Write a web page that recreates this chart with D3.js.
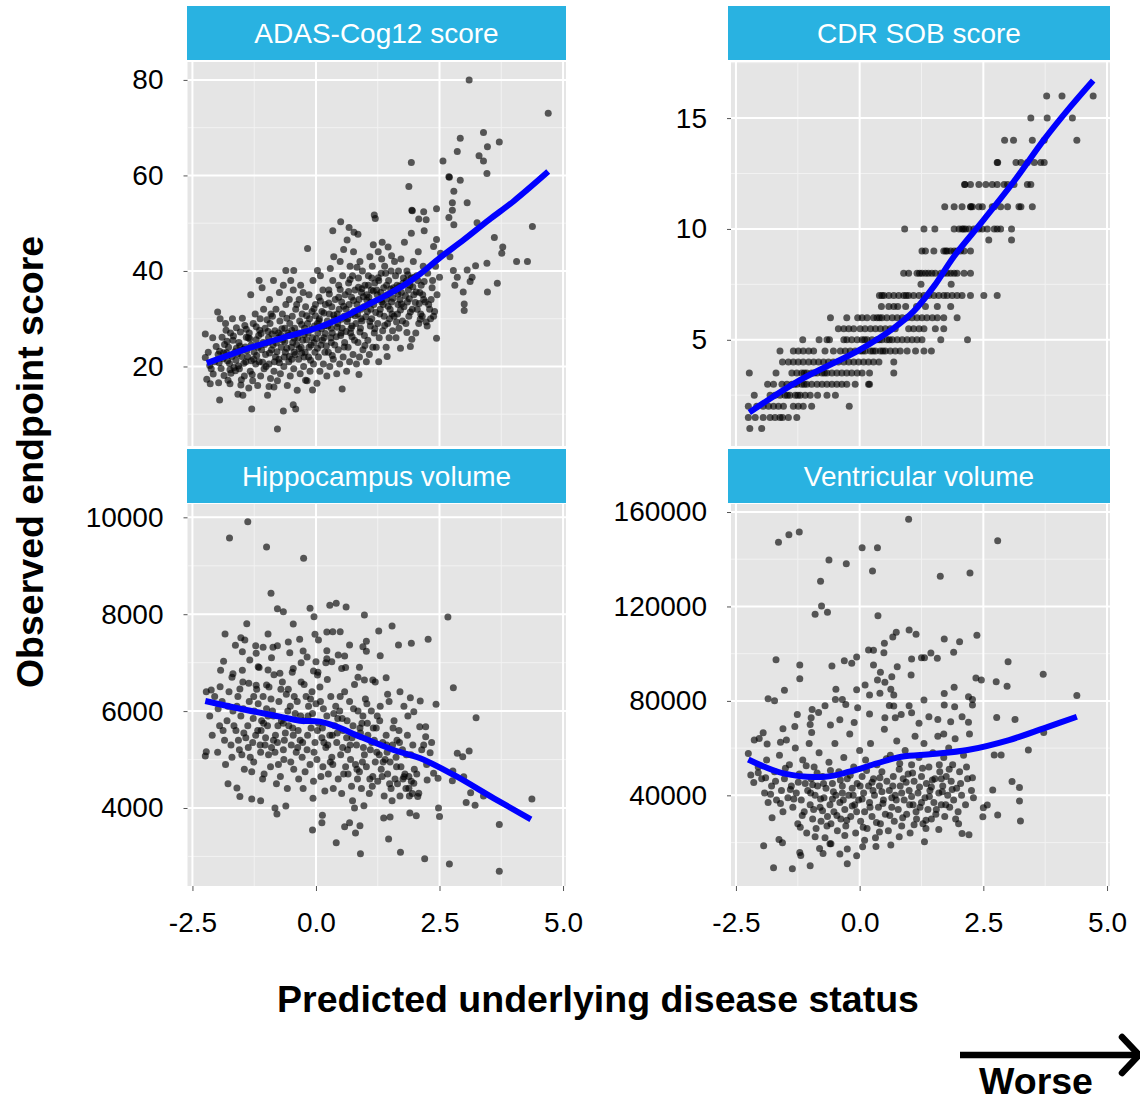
<!DOCTYPE html>
<html>
<head>
<meta charset="utf-8">
<script src="https://cdn.jsdelivr.net/npm/d3@7"></script>
<style>
  body { margin: 0; background: #fff; }
  svg { display: block; font-family: "Liberation Sans", Arial, Helvetica, sans-serif; }
</style>
</head>
<body>
<div id="chart"></div>
<script>
// ---- data ----
const panelTitles = ['ADAS-Cog12 score', 'CDR SOB score', 'Hippocampus volume', 'Ventricular volume'];

const xTicks = [-2.5, 0, 2.5, 5];
const xMinor = [-1.25, 1.25, 3.75];

const adasTicks = [20, 40, 60, 80];
const cdrTicks = [5, 10, 15];
const hippoTicks = [4000, 6000, 8000, 10000];
const ventTicks = [40000, 80000, 120000, 160000];

// ADAS-Cog12: [predicted status, observed score]
const adasPoints = [
  [3.10,80],[4.70,73.0],[3.39,69.0],[2.92,67.8],[3.71,67.0],[3.47,66.0],[2.86,65.0],[3.30,64.1],[3.39,63.0],[1.93,62.7],
  [2.57,63.0],[3.46,60.4],[2.69,59.7],[2.70,59.6],[2.92,59.0],[1.88,57.7],[2.79,56.7],[2.76,54.3],[3.06,54.3],[1.94,52.7],
  [1.95,52.6],[2.44,53.0],[2.18,52.4],[2.76,52.7],[2.08,50.9],[2.23,50.7],[2.69,51.2],[2.79,49.7],[3.26,50.1],[4.38,49.3],
  [1.18,51.7],[1.20,51.0],[0.50,50.3],[0.34,48.4],[0.67,49.1],[0.77,48.1],[0.85,47.7],[1.93,47.9],[2.19,48.4],[3.61,47.0],
  [3.78,45.0],[3.76,43.7],[4.06,42.0],[4.28,42.0],[3.46,41.6],[3.23,41.1],[3.06,40.2],[2.78,40.1],[2.86,38.7],[3.16,38.7],
  [3.12,37.8],[3.67,37.4],[2.81,37.0],[2.98,35.6],[3.47,35.6],[3.00,33.1],[3.00,31.7],[2.50,38.7],[2.71,43.0],[2.52,43.7],
  [2.44,46.6],[2.38,45.1],[2.44,25.9],[-0.17,44.7],[0.53,15.3],[-0.78,6.9],[-0.66,10.7],[-0.46,12.0],[-0.41,11.1],[-1.30,11.1],
  [-1.95,13.0],[-1.48,14.0],[-1.99,31.4],[-2.24,26.8],[-2.09,26.0],[-2.24,21.9],[-2.21,17.3],[-2.14,16.4],[-1.97,16.6],[-1.74,16.4],
  [-1.15,38.0],[-0.86,38.0],[-0.61,40.1],[-0.45,40.1],[0.03,40.1],[-0.07,15.1],[-0.95,15.8],[-0.85,15.7],[-0.21,17.1],[0.87,18.3],
  [1.27,21.0],[1.44,22.1],[1.71,23.8],[1.91,24.2],[1.94,25.7],[1.84,27.1],
  [-2.12,19.5],[-2.05,21.0],[-2.18,23.0],[-2.02,24.2],[-2.15,20.2],[-1.92,19.6],[-1.88,21.6],[-1.95,23.2],[-1.85,24.6],[-1.90,26.1],
  [-1.83,29.0],[-1.94,30.0],[-1.86,18.1],[-1.98,22.5],[-1.82,27.6],[-1.78,17.1],[-1.72,18.6],[-1.66,19.8],[-1.75,20.6],[-1.62,21.3],
  [-1.70,22.1],[-1.64,23.1],[-1.77,24.0],[-1.68,25.5],[-1.73,27.0],[-1.61,28.1],[-1.69,30.0],[-1.63,19.1],[-1.79,21.2],[-1.58,14.2],
  [-1.52,16.1],[-1.45,18.0],[-1.55,19.5],[-1.42,21.0],[-1.50,22.1],[-1.47,23.6],[-1.56,25.0],[-1.41,26.1],[-1.53,27.2],[-1.44,28.6],
  [-1.49,30.1],[-1.57,20.1],[-1.43,24.1],[-1.51,17.2],[-1.36,15.5],[-1.28,17.0],[-1.33,19.0],[-1.22,20.5],[-1.38,22.0],[-1.25,23.0],
  [-1.31,24.5],[-1.21,25.6],[-1.35,27.0],[-1.27,29.0],[-1.23,31.0],[-1.32,35.0],[-1.26,21.5],[-1.37,26.0],[-1.18,16.0],[-1.12,18.0],
  [-1.05,19.5],[-1.15,21.0],[-1.02,22.5],[-1.10,23.5],[-1.07,25.0],[-1.16,26.5],[-1.03,28.0],[-1.13,30.0],[-1.06,32.0],[-1.09,36.5],
  [-1.01,20.0],[-1.17,24.0],[-0.98,14.0],[-0.92,17.5],[-0.85,19.0],[-0.95,20.5],[-0.82,22.0],[-0.90,23.5],[-0.87,24.5],[-0.96,26.0],
  [-0.83,27.5],[-0.93,29.0],[-0.88,30.5],[-0.81,32.0],[-0.94,34.0],[-0.84,21.0],[-0.97,25.0],[-0.78,17.0],[-0.72,18.5],[-0.65,20.0],
  [-0.75,21.5],[-0.62,23.0],[-0.70,24.0],[-0.67,25.5],[-0.76,27.0],[-0.63,28.0],[-0.73,29.5],[-0.68,31.0],[-0.61,33.0],[-0.74,35.5],
  [-0.66,37.0],[-0.64,22.0],[-0.77,26.0],[-0.58,16.0],[-0.52,18.0],[-0.45,19.5],[-0.55,21.0],[-0.42,22.5],[-0.50,24.0],[-0.47,25.0],
  [-0.56,26.5],[-0.43,28.0],[-0.53,29.0],[-0.48,30.5],[-0.41,32.0],[-0.54,34.0],[-0.46,36.0],[-0.51,38.0],[-0.44,23.0],[-0.57,27.0],
  [-0.38,15.0],[-0.32,18.5],[-0.25,20.0],[-0.35,21.5],[-0.22,23.0],[-0.30,24.0],[-0.27,25.5],[-0.36,27.0],[-0.23,28.0],[-0.33,29.5],
  [-0.28,31.0],[-0.21,32.5],[-0.34,34.0],[-0.26,35.5],[-0.31,37.0],[-0.24,22.0],[-0.37,26.0],[-0.18,17.0],[-0.12,19.0],[-0.05,20.5],
  [-0.15,22.0],[-0.02,23.0],[-0.10,24.5],[-0.07,26.0],[-0.16,27.0],[-0.03,28.5],[-0.13,30.0],[-0.08,31.5],[-0.01,33.0],[-0.14,35.0],
  [-0.06,38.0],[-0.04,25.0],[-0.17,29.0],[0.02,16.5],[0.08,19.0],[0.15,20.5],[0.05,22.0],[0.18,23.0],[0.10,24.5],[0.13,25.5],
  [0.04,27.0],[0.17,28.5],[0.07,30.0],[0.12,31.5],[0.19,33.0],[0.06,34.5],[0.14,36.0],[0.09,39.0],[0.16,26.0],[0.03,29.0],
  [0.22,18.0],[0.28,20.0],[0.35,21.5],[0.25,23.0],[0.38,24.5],[0.30,26.0],[0.33,27.0],[0.24,28.5],[0.37,30.0],[0.27,31.0],
  [0.32,32.5],[0.39,34.0],[0.26,36.0],[0.34,38.0],[0.29,40.5],[0.36,43.0],[0.31,25.0],[0.23,29.5],[0.42,18.5],[0.48,20.5],
  [0.55,22.0],[0.45,23.5],[0.58,25.0],[0.50,26.5],[0.53,28.0],[0.44,29.0],[0.57,30.5],[0.47,32.0],[0.52,33.5],[0.59,35.0],
  [0.46,37.0],[0.54,39.0],[0.49,42.0],[0.56,44.5],[0.51,27.0],[0.43,31.0],[0.62,19.0],[0.68,21.0],[0.75,22.5],[0.65,24.0],
  [0.78,25.5],[0.70,27.0],[0.73,28.5],[0.64,30.0],[0.77,31.5],[0.67,33.0],[0.72,34.5],[0.79,36.0],[0.66,37.5],[0.74,39.0],
  [0.69,41.0],[0.76,44.0],[0.63,46.5],[0.71,28.0],[0.61,32.0],[0.82,20.5],[0.88,22.0],[0.95,23.5],[0.85,25.0],[0.98,26.5],
  [0.90,28.0],[0.93,29.5],[0.84,31.0],[0.97,32.5],[0.87,34.0],[0.92,35.5],[0.99,37.0],[0.86,38.5],[0.94,40.0],[0.89,42.0],
  [0.91,30.0],[0.83,33.0],[1.02,21.0],[1.08,22.5],[1.15,24.0],[1.05,25.5],[1.18,27.0],[1.10,28.5],[1.13,30.0],[1.04,31.5],
  [1.17,33.0],[1.07,34.5],[1.12,36.0],[1.19,37.5],[1.06,39.0],[1.14,41.0],[1.09,43.0],[1.16,45.5],[1.11,32.0],[1.03,35.0],
  [1.22,24.0],[1.28,26.0],[1.35,27.5],[1.25,29.0],[1.38,30.5],[1.30,32.0],[1.33,33.5],[1.24,35.0],[1.37,36.5],[1.27,38.0],
  [1.32,39.5],[1.39,41.0],[1.26,44.0],[1.34,46.0],[1.31,34.0],[1.42,24.0],[1.48,26.0],[1.55,27.5],[1.45,29.0],[1.58,30.5],
  [1.50,32.0],[1.53,33.5],[1.44,35.0],[1.57,36.5],[1.47,38.0],[1.52,40.0],[1.59,42.0],[1.46,45.0],[1.54,31.0],[1.43,37.0],
  [1.62,26.0],[1.68,28.0],[1.75,29.5],[1.65,31.0],[1.78,32.5],[1.70,34.0],[1.73,35.5],[1.64,37.0],[1.77,38.5],[1.67,40.0],
  [1.72,42.5],[1.79,46.0],[1.66,33.0],[1.82,29.0],[1.88,30.5],[1.95,32.0],[1.85,33.5],[1.98,35.0],[1.90,37.0],[1.93,38.5],
  [1.84,40.0],[1.97,42.0],[1.87,36.0],[2.02,27.0],[2.08,29.0],[2.15,30.5],[2.05,32.0],[2.18,34.0],[2.10,35.5],[2.13,37.0],
  [2.04,39.0],[2.17,41.0],[2.07,44.0],[2.12,31.0],[2.25,28.5],[2.32,30.0],[2.40,31.5],[2.28,33.0],[2.45,35.0],[2.35,36.5],
  [2.42,41.0],[2.30,32.0],
  [-2.08,18.4],[-1.96,20.8],[-1.87,22.9],[-1.80,25.3],[-1.74,19.3],[-1.67,26.4],[-1.59,22.6],[-1.54,24.3],[-1.46,20.7],[-1.40,23.3],
  [-1.34,25.8],[-1.29,18.3],[-1.20,22.3],[-1.14,27.6],[-1.08,20.9],[-1.04,24.6],[-0.99,29.8],[-0.94,22.8],[-0.89,26.8],[-0.80,24.9],
  [-0.74,20.8],[-0.69,27.9],[-0.63,25.2],[-0.59,30.1],[-0.54,22.1],[-0.49,27.6],[-0.44,25.9],[-0.39,33.0],[-0.34,23.7],[-0.29,28.8],
  [-0.24,26.7],[-0.19,30.6],[-0.14,24.0],[-0.09,27.8],[-0.04,32.1],[0.01,25.8],[0.06,29.6],[0.11,27.9],[0.16,31.2],[0.21,24.3],
  [0.26,33.3],[0.31,28.0],[0.36,30.8],[0.41,26.2],[0.46,34.5],[0.51,29.9],[0.56,32.6],[0.61,27.3],[0.66,35.7],[0.71,30.9],
  [0.76,33.8],[0.81,29.0],[0.86,36.6],[0.91,32.0],[0.96,34.6],[1.01,30.4],[1.06,37.0],[1.11,33.4],[1.16,35.8],[1.21,31.3],
  [1.26,38.6],[1.31,35.5],[1.36,33.0],[1.41,39.5],[1.46,32.6],[1.51,36.2],[1.56,34.3],[1.61,39.0],[1.66,35.2],[1.71,31.8],
  [1.76,37.4],[1.81,34.8],[1.86,39.2],[1.91,31.4],[1.96,36.7],[2.01,33.4],[2.06,38.0],[2.11,29.9],[2.16,35.0],[2.21,33.5],
  [2.26,39.5],[2.33,34.0],[2.38,30.5],
  [0.03,23.8],[0.09,33.7],[0.19,26.9],[0.27,35.2],[0.33,22.3],[0.43,28.2],[0.49,36.1],[0.57,24.1],[0.63,29.4],[0.69,38.2],
  [0.73,26.2],[0.79,30.6],[0.83,40.8],[0.89,27.2],[0.93,36.3],[0.99,24.4],[1.03,33.9],[1.09,29.4],[1.13,38.5],[1.19,27.9],
  [1.23,36.0],[1.29,31.0],[1.33,42.5],[1.39,28.6],[1.43,34.1],[1.49,30.0],[1.53,43.2],[1.59,35.9],[1.63,29.3],[1.69,36.8],
  [1.73,33.1],[1.83,37.9],[1.89,34.2],[1.99,38.7],[2.03,35.6],[2.09,33.2],[2.19,37.8],[2.23,29.3],[2.36,38.0],[-0.97,27.3],
  [-0.91,31.0],[-0.79,23.1],[-0.71,26.6],[-0.59,23.8],[-0.49,21.5],[-0.39,24.6],[-0.29,22.8],[-0.19,25.6],[-0.11,21.3],[-0.01,30.6],
  [-1.11,26.9],[-1.21,28.3],[-1.31,21.2],[-1.41,27.8],[-1.61,23.8],[-1.81,22.9]
];

// CDR SOB: scores come in half steps, x positions listed per score row
const cdrScores = [16, 15, 14, 13, 12, 11, 10, 9.5, 9, 8, 7.5, 7, 6.5, 6, 5.5, 5, 4.5, 4, 3.5, 3, 2.5, 2, 1.5, 1];
const cdrX = [
  [3.78,4.09,4.72],
  [3.46,3.79,4.30],
  [2.93,3.11,3.49,3.73,4.39],
  [2.78,2.79,3.16,3.26,3.39,3.53,3.66,3.73],
  [2.12,2.13,2.24,2.41,2.55,2.68,2.78,2.92,2.99,3.12,3.39,3.46],
  [1.72,1.91,2.07,2.24,2.25,2.28,2.41,2.48,2.68,2.72,2.85,2.99,3.22,3.26,3.49],
  [0.91,1.30,1.52,1.91,2.01,2.07,2.10,2.14,2.21,2.31,2.41,2.48,2.58,2.72,2.78,2.85,3.07],
  [2.61,3.07],
  [1.26,1.33,1.50,1.70,1.74,1.77,1.84,1.91,1.97,2.04,2.11,2.24],
  [0.89,0.99,1.16,1.21,1.26,1.33,1.39,1.46,1.53,1.64,1.70,1.77,1.84,1.91,1.97,2.11,2.24],
  [1.24,1.85],
  [0.40,0.45,0.49,0.59,0.69,0.79,0.89,0.94,0.99,1.09,1.20,1.30,1.40,1.50,1.60,1.70,1.77,1.87,1.97,2.07,2.24,2.51,2.78],
  [0.44,0.59,0.69,0.77,0.93,1.15,1.33,1.57,1.84],
  [-0.59,-0.26,-0.04,0.05,0.15,0.28,0.35,0.40,0.45,0.55,0.66,0.76,0.86,0.96,1.06,1.16,1.26,1.36,1.47,1.57,1.70,1.97],
  [-0.43,-0.32,-0.22,-0.12,0.01,0.11,0.22,0.32,0.42,0.52,0.62,0.72,0.99,1.09,1.20,1.30,1.53,1.70],
  [-1.15,-0.82,-0.66,-0.61,-0.32,-0.26,-0.16,-0.05,0.05,0.10,0.15,0.25,0.35,0.40,0.45,0.55,0.60,0.66,0.76,0.86,0.96,1.06,1.16,1.26,1.64,2.18],
  [-1.61,-1.34,-1.24,-1.14,-1.03,-0.93,-0.70,-0.53,-0.39,-0.29,-0.19,-0.09,0.01,0.06,0.11,0.22,0.27,0.32,0.42,0.47,0.52,0.62,0.72,0.82,0.96,1.13,1.30,1.45],
  [-1.56,-1.44,-1.34,-1.24,-1.14,-1.03,-0.93,-0.83,-0.73,-0.63,-0.53,-0.43,-0.32,-0.22,-0.12,-0.02,0.08,0.18,0.28,0.39,0.69],
  [-2.23,-1.69,-1.37,-1.27,-1.17,-1.12,-1.07,-0.97,-0.92,-0.86,-0.76,-0.71,-0.66,-0.56,-0.46,-0.36,-0.26,-0.16,-0.05,0.05,0.20,0.69],
  [-1.86,-1.74,-1.57,-1.47,-1.37,-1.32,-1.27,-1.17,-1.12,-1.07,-0.97,-0.86,-0.76,-0.66,-0.56,-0.46,-0.36,-0.26,-0.09,0.18,0.20],
  [-2.13,-1.81,-1.71,-1.61,-1.51,-1.46,-1.41,-1.30,-1.25,-1.20,-1.10,-1.00,-0.85,-0.66,-0.49],
  [-2.25,-2.08,-1.95,-1.84,-1.74,-1.64,-1.54,-1.34,-1.24,-1.14,-0.97,-0.21],
  [-2.25,-2.11,-1.95,-1.81,-1.71,-1.61,-1.56,-1.44,-1.27],
  [-2.22,-1.98]
];

// Hippocampus volume
const hippoPoints = [
  [-1.38,9911],[-1.75,9573],[-1.00,9388],[-0.25,9154],[-0.91,8431],[-0.78,8115],[-0.66,8053],[-0.12,8122],[0.28,8184],[0.41,8225],
  [0.61,8149],[-0.04,7950],[0.98,7984],[2.67,7943],[-1.40,7805],[-0.46,7798],[1.54,7757],[-1.84,7592],[-0.97,7592],[-0.02,7585],
  [0.22,7633],[0.34,7640],[0.49,7640],[1.27,7654],[2.27,7482],[-1.52,7516],[-1.44,7468],[-0.56,7427],[-0.33,7482],[0.05,7468],
  [1.02,7441],[1.93,7399],[1.67,7365],[-1.63,7358],[-1.22,7351],[-1.07,7317],[-0.87,7317],[-0.78,7351],[0.68,7365],[0.95,7330],
  [-1.49,7227],[-1.21,7193],[-0.53,7207],[-0.26,7241],[0.22,7248],[0.45,7159],[0.58,7138],[1.02,7234],[1.30,7145],[-0.18,7117],
  [-1.34,7055],[-1.87,7028],[0.22,7083],[0.32,7021],[0.00,7021],[-1.93,6842],[-1.49,6842],[-1.68,6773],[-1.17,6918],[-0.97,6849],
  [-0.73,6780],[-0.46,6877],[-0.05,6829],[0.03,6746],[0.52,6877],[0.88,6904],[1.42,6691],[0.98,6643],[1.15,6643],[2.78,6484],
  [-1.94,6505],[-2.22,6402],[-2.12,6437],[-1.54,6457],[-1.36,6574],[-1.21,6533],[-1.00,6540],
  [-2.24,5074],[-2.22,5163],[-1.99,5150],[-1.78,4503],[-1.60,4414],[-1.54,4235],[-1.30,4186],[-1.12,4152],[-0.83,4000],[-0.79,3877],
  [-0.61,4042],[-0.07,3547],[0.13,3849],[0.12,3698],[0.41,3285],[0.58,3615],[0.68,3698],[0.80,3485],[0.78,4000],[0.89,3636],
  [0.90,3058],[0.97,4049],[1.37,3794],[1.50,3815],[1.47,3361],[1.71,3086],[1.90,3897],[2.03,3842],[2.20,2955],[2.48,4000],
  [2.50,3822],[2.70,2845],[3.04,4111],[3.22,4056],[3.13,4317],[3.71,3657],[3.71,2694],[4.37,4186],[3.24,5865],[2.77,4764],
  [2.86,5129],[2.97,5060],[3.10,5177],[2.76,4565],[2.99,4647],[3.39,4248],[2.43,6140],[2.31,5143],[2.22,5473],[2.10,5679],
  [2.11,6209],[1.91,6278],[1.98,5989],[2.22,5679],[2.18,5301],[2.38,4716],[2.47,4613],[2.25,4579],[2.08,4303],[2.06,4235],
  [1.88,4407],[1.98,4510],[1.78,4647],
  [-2.15,5900],[-2.05,6300],[-2.10,5500],[-1.98,6050],[-1.95,5700],[-1.90,6200],[-1.85,5400],[-1.80,5800],[-1.76,6400],[-1.72,5300],
  [-1.70,5050],[-1.68,6000],[-1.83,4900],[-1.62,5600],[-1.58,6300],[-1.55,5200],[-1.52,5900],[-1.48,6600],[-1.45,4800],[-1.42,5450],
  [-1.60,6100],[-1.50,5100],[-1.38,5700],[-1.35,6200],[-1.30,4750],[-1.28,5350],[-1.25,6000],[-1.22,5500],[-1.20,6450],[-1.33,5050],
  [-1.26,4950],[-1.18,5600],[-1.15,6900],[-1.12,5150],[-1.10,5800],[-1.07,6300],[-1.05,4700],[-1.02,5450],[-1.00,6050],[-1.13,5300],
  [-1.08,4600],[-0.98,5700],[-0.95,6500],[-0.92,4850],[-0.90,5250],[-0.88,6000],[-0.85,6750],[-0.82,5500],[-0.80,4500],[-0.96,5100],
  [-0.86,5900],[-0.78,5350],[-0.75,6200],[-0.72,4650],[-0.70,5800],[-0.68,6600],[-0.65,5000],[-0.62,5550],[-0.60,6350],[-0.76,4900],
  [-0.66,5200],[-0.58,4400],[-0.55,5700],[-0.52,6100],[-0.50,5300],[-0.48,6800],[-0.45,4800],[-0.42,5950],[-0.40,5150],[-0.56,6450],
  [-0.46,5500],[-0.38,6200],[-0.35,4600],[-0.32,5400],[-0.30,6600],[-0.28,5050],[-0.25,5800],[-0.22,4750],[-0.20,6300],[-0.36,5600],
  [-0.26,4400],[-0.18,5200],[-0.15,6100],[-0.12,4900],[-0.10,5650],[-0.08,6400],[-0.05,4550],[-0.02,5350],[0.00,6150],[-0.16,5900],
  [-0.06,4200],[0.02,5000],[0.05,5750],[0.08,6500],[0.10,4650],[0.12,5450],[0.15,6050],[0.18,4350],[0.20,5250],[0.04,6800],
  [0.14,4850],[0.22,5900],[0.25,4700],[0.28,5500],[0.30,6300],[0.32,5050],[0.35,4400],[0.38,5700],[0.40,6100],[0.24,5300],
  [0.34,4900],[0.42,5350],[0.45,4600],[0.48,6000],[0.50,5100],[0.52,4300],[0.55,5600],[0.58,6400],[0.60,4850],[0.44,5850],
  [0.54,5250],[0.62,5450],[0.65,4700],[0.68,6200],[0.70,5000],[0.72,4450],[0.75,5700],[0.78,6550],[0.80,4900],[0.64,5200],
  [0.74,4150],[0.82,5300],[0.85,6000],[0.88,4750],[0.90,5550],[0.92,4400],[0.95,5900],[0.98,5100],[1.00,6250],[0.84,4600],
  [0.94,4950],[1.02,4850],[1.05,5500],[1.08,4300],[1.10,5200],[1.12,6000],[1.15,4650],[1.18,5400],[1.20,4950],[1.04,5750],
  [1.14,4450],[1.22,5650],[1.25,4550],[1.28,5100],[1.30,6100],[1.32,4800],[1.35,5350],[1.38,4250],[1.40,5000],[1.24,5900],
  [1.34,4650],[1.42,5500],[1.45,4700],[1.48,6200],[1.50,4950],[1.52,4400],[1.55,5300],[1.58,5800],[1.60,4600],[1.44,5150],
  [1.54,4150],[1.62,5050],[1.65,4500],[1.68,5600],[1.70,4250],[1.72,4850],[1.75,5200],[1.78,6100],[1.80,4700],[1.64,5400],
  [1.82,4400],[1.85,5500],[1.88,4650],[1.92,5100],[1.95,4300],[1.99,4800],[1.86,5900],[1.93,4550],
  [-1.88,5600],[-1.78,6100],[-1.66,5700],[-1.57,5400],[-1.47,6050],[-1.37,5250],[-1.27,5850],[-1.17,6150],[-1.11,5600],[-1.03,5300],
  [-0.97,5900],[-0.91,6250],[-0.83,5150],[-0.77,5700],[-0.71,6450],[-0.64,5400],[-0.57,6000],[-0.51,4950],[-0.44,6300],[-0.37,5250],
  [-0.31,5900],[-0.24,6550],[-0.17,5500],[-0.11,6250],[-0.04,5150],[0.03,5600],[0.09,6200],[0.16,5350],[0.23,6650],[0.29,4950],
  [0.36,5950],[0.43,5550],[0.49,6300],[0.56,4700],[0.63,5800],[0.69,5300],[0.76,6050],[0.83,4800],[0.89,5650],[0.96,5250],
  [1.03,6150],[1.09,4600],[1.16,5650],[1.23,5150],[1.29,5800],[1.36,4950],[1.43,5300],[1.49,4500],[1.56,5650],[1.63,4850],
  [1.69,5350],[1.76,4600],[1.83,5100],[1.89,4250],[1.96,5300],[2.04,4700],[2.14,5200],[2.24,4900],[2.34,5350],[-0.66,5750],
  [-0.47,5650],[-0.27,5350],[-0.07,5950],[0.13,5650],[0.33,5500],[0.53,5850],[0.73,5450],[0.93,5750],[1.13,5350],[-0.86,5400],
  [-1.06,5750],[-1.26,6300],[-1.46,5550],[0.60,6900],[0.85,6700],[1.20,6600],[1.45,6350],[1.70,6400],[0.20,7000],[-0.30,7000],
  [-0.90,7100],[-1.70,6700]
];

// Ventricular volume
const ventPoints = [
  [0.99,156894],[-1.64,147151],[-1.43,150400],[-1.22,151528],[2.79,147857],[0.05,144890],[0.36,144890],[-0.62,139667],[-0.27,138114],[0.26,135008],
  [1.63,132748],[2.23,134160],[-0.79,130630],[-0.90,116652],[-0.77,120182],[-0.65,117499],[0.37,116087],[1.00,110015],[1.14,108180],[0.74,109027],
  [0.67,107050],[2.37,107756],[1.71,106203],[2.02,105073],[0.50,104367],[0.18,101543],[0.28,101402],[0.49,100414],[1.90,100555],[1.44,100273],
  [-0.06,98579],[1.25,98297],[1.31,98297],[1.57,98014],[1.05,97732],[-1.69,97449],[-0.31,97026],[-0.16,95897],[3.00,96602],[-1.21,95191],
  [-0.56,94767],[0.28,95191],[0.76,94485],[0.42,92085],[1.04,90955],[3.71,91238],[-1.21,89402],[0.65,90249],[2.35,89685],[2.46,88838],
  [2.76,88132],[0.36,88838],[0.51,87849],[2.98,86155],[0.11,86719],[-0.06,84742],[-0.48,84883],[-1.52,84460],[0.41,83189],[0.63,84883],
  [0.69,82483],[0.20,82483],[1.91,85732],[1.71,83097],[2.20,81776],[2.28,80646],[4.39,82341],[-1.85,80928],[-1.72,80081],[-0.49,80646],
  [-0.28,78528],[-0.35,80646],[2.28,78245],[1.92,77539],[1.71,78245],[1.30,80364],[1.00,77963],[0.69,77822],[-0.04,77116],[-0.96,76410],
  [-0.70,77963],[-0.83,75139],[-1.26,74292],[-0.98,72880],[2.77,73021],[3.14,72174],[0.51,72880],[0.72,72880],[0.84,74292],[1.05,74997],
  [1.40,73303],[1.58,72174],[1.84,71186],[2.07,73303],[-0.11,70903],[-0.59,69773],[-1.31,69209],[-1.55,68220],[-1.95,66526],[-0.97,66667],
  [-2.13,63418],[-2.03,64124],[-1.87,61724],[-1.48,63418],[-2.25,57771],[-2.20,48592],[-2.14,45486],[-2.05,49581],[-1.94,18659],[-1.74,9340],
  [-1.63,21342],[-1.56,19930],[-1.77,30518],[-1.36,8917],[-1.21,15836],[-1.19,14565],[-1.00,10187],[-0.81,17530],[-0.74,15412],[-0.58,19506],
  [-0.40,15130],[-0.25,11033],[-0.25,17247],[-0.06,14424],[0.06,18236],[0.33,18377],[0.63,18942],[1.31,20354],[1.34,26002],[2.07,23884],
  [2.21,23319],[3.25,29109],[3.23,37581],[3.23,43370],[3.08,45912],[2.69,42241],[2.79,31649],[2.49,30943],[2.50,34756],[2.58,35885],
  [3.41,59183],[2.86,57065],[2.72,57065],[3.72,66667],
  [-2.05,52000],[-1.98,47000],[-1.92,41000],[-1.88,55000],[-1.85,37000],[-1.78,44000],[-1.72,50000],[-1.68,38000],[-1.62,57000],[-1.58,42000],
  [-1.55,33000],[-1.52,47000],[-1.45,39000],[-1.42,53000],[-1.38,44000],[-1.35,35000],[-1.30,60000],[-1.28,41000],[-1.25,28000],[-1.22,49000],
  [-1.18,38000],[-1.15,55000],[-1.12,33000],[-1.10,45000],[-1.07,24000],[-1.05,42000],[-1.02,62000],[-1.00,36000],[-0.98,47000],[-0.95,30000],
  [-0.92,52000],[-0.90,40000],[-0.88,26000],[-0.85,44000],[-0.82,58000],[-0.80,35000],[-0.78,29000],[-0.75,48000],[-0.72,39000],[-0.70,22000],
  [-0.68,43000],[-0.65,31000],[-0.62,54000],[-0.60,36000],[-0.58,28000],[-0.55,45000],[-0.52,33000],[-0.50,62000],[-0.48,40000],[-0.45,25000],
  [-0.42,50000],[-0.40,37000],[-0.38,30000],[-0.35,44000],[-0.32,56000],[-0.30,34000],[-0.28,27000],[-0.25,47000],[-0.22,40000],[-0.20,66000],
  [-0.18,31000],[-0.15,43000],[-0.12,52000],[-0.10,36000],[-0.08,24000],[-0.05,45000],[-0.02,38000],[0.00,59000],[0.02,29000],[0.05,48000],
  [0.08,41000],[0.10,33000],[0.12,55000],[0.15,26000],[0.18,44000],[0.20,37000],[0.22,62000],[0.25,31000],[0.28,47000],[0.30,40000],
  [0.32,22000],[0.35,53000],[0.38,35000],[0.40,44000],[0.42,28000],[0.45,50000],[0.48,38000],[0.50,68000],[0.52,32000],[0.55,46000],
  [0.58,25000],[0.60,42000],[0.62,57000],[0.65,35000],[0.68,48000],[0.70,29000],[0.72,40000],[0.75,63000],[0.78,34000],[0.80,51000],
  [0.82,44000],[0.85,27000],[0.88,47000],[0.90,38000],[0.92,59000],[0.95,32000],[0.98,49000],[1.00,42000],[1.02,24000],[1.05,53000],
  [1.08,36000],[1.10,46000],[1.12,65000],[1.15,30000],[1.18,41000],[1.20,56000],[1.22,35000],[1.25,48000],[1.28,28000],[1.30,62000],
  [1.32,39000],[1.35,45000],[1.38,34000],[1.40,52000],[1.42,42000],[1.45,30000],[1.48,58000],[1.50,37000],[1.52,47000],[1.55,34000],
  [1.58,65000],[1.60,41000],[1.62,50000],[1.65,36000],[1.68,44000],[1.70,56000],[1.72,31000],[1.75,48000],[1.78,40000],[1.80,60000],
  [1.82,35000],[1.85,46000],[1.88,53000],[1.90,38000],[1.93,64000],[1.96,43000],[1.99,33000],[2.02,50000],[2.06,40000],[2.10,57000],
  [2.14,36000],[2.18,47000],[2.22,66000],[2.26,42000],[2.30,39000],
  [-1.90,47500],[-1.80,40500],[-1.70,46000],[-1.60,36500],[-1.50,51500],[-1.40,42500],[-1.33,38500],[-1.24,45500],[-1.16,31500],[-1.08,52500],
  [-0.99,41000],[-0.93,34000],[-0.86,49500],[-0.79,38500],[-0.73,45000],[-0.66,27000],[-0.59,50500],[-0.53,41500],[-0.46,31500],[-0.39,46500],
  [-0.33,38000],[-0.26,29500],[-0.19,48500],[-0.13,40000],[-0.06,33000],[0.01,44000],[0.07,26500],[0.14,50500],[0.21,35000],[0.27,42000],
  [0.34,28500],[0.41,47500],[0.47,36500],[0.54,55500],[0.61,31500],[0.67,44000],[0.74,38000],[0.81,53500],[0.87,30500],[0.94,45500],
  [1.01,36000],[1.07,49500],[1.14,33000],[1.21,43500],[1.27,51500],[1.34,29500],[1.41,39500],[1.47,46500],[1.54,32000],[1.61,53000],
  [1.67,41500],[1.74,36000],[1.81,51000],[1.87,42500],[1.94,30000],[2.04,45000],[2.16,52000],[2.28,47500],[-0.95,44500],[-0.75,33500],
  [-0.55,38500],[-0.35,41000],[-0.15,35500],[0.05,38500],[0.25,45500],[0.45,41500],[0.65,39000],[0.85,41000],[1.05,39500],[1.25,37000],
  [1.45,43500],[1.65,47000],[-1.20,26500],[-0.90,22500],[-0.60,19500],[-0.30,23000],[0.10,21000],[0.40,24500],[0.80,22500],[1.10,27500],
  [1.60,25500],[2.00,28000],[-1.60,62500],[-1.00,70000],[-0.40,72000],[0.20,74500],[0.60,78000],[1.20,70500],[1.70,66000],[2.20,71000]
];

// smoothed (loess) curves
const adasFit = [[-2.21,20.7],[-1.25,24.2],[-0.58,26.3],[0,28.0],[0.5,30.1],[1.04,32.9],[1.44,35.0],[1.84,37.4],[2.11,39.4],[2.5,42.7],[3.0,46.6],[3.5,50.7],[4.0,54.6],[4.70,60.8]];
const cdrFit = [[-2.23,1.72],[-1.2,3.19],[0,4.55],[0.69,5.53],[1.09,6.28],[1.5,7.41],[1.91,8.77],[2.51,10.42],[3.12,12.15],[3.73,14.04],[4.27,15.54],[4.72,16.70]];
const hippoFit = [[-2.24,6209],[-1.41,6023],[-0.73,5886],[-0.33,5803],[0.08,5783],[0.42,5679],[0.89,5473],[1.57,5198],[2.11,5026],[2.79,4682],[3.60,4200],[4.35,3767]];
const ventFit = [[-2.25,55206],[-1.54,49296],[-0.70,47888],[-0.21,50006],[0.35,53536],[0.84,56360],[1.47,57490],[2.18,59183],[3.02,63419],[3.72,68361],[4.39,73303]];

// ---- layout ----
const width = 1140, height = 1104;
const cols = [{x0: 187.5, x1: 566, s0: 187, s1: 566}, {x0: 731, x1: 1110, s0: 728, s1: 1110}];
const rows = [{s0: 6, s1: 60, y0: 62, y1: 446}, {s0: 449, s1: 503, y0: 504, y1: 886}];
const stripColor = '#29b2e1';
const panelBg = '#e5e5e5';
const tickFont = '28px';
const titleFont = '37.5px';

const cdrPoints = cdrScores.flatMap((s, i) => cdrX[i].map(x => [x, s]));

const panels = [
  {title: panelTitles[0], pts: adasPoints, fit: adasFit, yDomain: [3.35, 83.75], ticks: adasTicks, minor: [10, 30, 50, 70], col: 0, row: 0},
  {title: panelTitles[1], pts: cdrPoints, fit: cdrFit, yDomain: [0.21, 17.53], ticks: cdrTicks, minor: [2.5, 7.5, 12.5, 17.5], col: 1, row: 0},
  {title: panelTitles[2], pts: hippoPoints, fit: hippoFit, yDomain: [2390, 10275], ticks: hippoTicks, minor: [3000, 5000, 7000, 9000], col: 0, row: 1},
  {title: panelTitles[3], pts: ventPoints, fit: ventFit, yDomain: [1600, 163400], ticks: ventTicks, minor: [20000, 60000, 100000, 140000], col: 1, row: 1}
];

const svg = d3.select('#chart')
  .append('svg')
  .attr('width', width)
  .attr('height', height);

panels.forEach(p => {
  const c = cols[p.col], r = rows[p.row];

  const x = d3.scaleLinear().domain([-2.6, 5.06]).range([c.x0, c.x1]);
  const y = d3.scaleLinear().domain(p.yDomain).range([r.y1, r.y0]);

  const g = svg.append('g');

  // strip
  g.append('rect')
    .attr('x', c.s0).attr('y', r.s0)
    .attr('width', c.s1 - c.s0).attr('height', r.s1 - r.s0)
    .attr('fill', stripColor);
  g.append('text')
    .attr('x', (c.s0 + c.s1) / 2)
    .attr('y', (r.s0 + r.s1) / 2 + 9.5)
    .attr('text-anchor', 'middle')
    .attr('font-size', '28px')
    .attr('fill', '#fff')
    .text(p.title);

  // panel background
  g.append('rect')
    .attr('x', c.x0).attr('y', r.y0)
    .attr('width', c.x1 - c.x0).attr('height', r.y1 - r.y0)
    .attr('fill', panelBg);

  // minor grid
  g.append('g').selectAll('line')
    .data(p.minor.filter(v => y(v) >= r.y0 && y(v) <= r.y1))
    .enter().append('line')
    .attr('x1', c.x0).attr('x2', c.x1)
    .attr('y1', d => y(d)).attr('y2', d => y(d))
    .attr('stroke', '#f2f2f2').attr('stroke-width', 1);
  g.append('g').selectAll('line')
    .data(xMinor)
    .enter().append('line')
    .attr('x1', d => x(d)).attr('x2', d => x(d))
    .attr('y1', r.y0).attr('y2', r.y1)
    .attr('stroke', '#f2f2f2').attr('stroke-width', 1);

  // major grid
  g.append('g').selectAll('line')
    .data(p.ticks)
    .enter().append('line')
    .attr('x1', c.x0).attr('x2', c.x1)
    .attr('y1', d => y(d)).attr('y2', d => y(d))
    .attr('stroke', '#fff').attr('stroke-width', 2);
  g.append('g').selectAll('line')
    .data(xTicks)
    .enter().append('line')
    .attr('x1', d => x(d)).attr('x2', d => x(d))
    .attr('y1', r.y0).attr('y2', r.y1)
    .attr('stroke', '#fff').attr('stroke-width', 2);

  // points
  g.append('g').selectAll('circle')
    .data(p.pts)
    .enter().append('circle')
    .attr('cx', d => x(d[0]))
    .attr('cy', d => y(d[1]))
    .attr('r', 3.5)
    .attr('fill', '#000')
    .attr('fill-opacity', 0.63);

  // smooth line
  const line = d3.line()
    .x(d => x(d[0]))
    .y(d => y(d[1]))
    .curve(d3.curveCatmullRom);
  g.append('path')
    .datum(p.fit)
    .attr('fill', 'none')
    .attr('stroke', '#0000ff')
    .attr('stroke-width', 6)
    .attr('d', line);

  // y axis
  g.append('g')
    .attr('transform', `translate(${c.x0},0)`)
    .call(d3.axisLeft(y).tickValues(p.ticks).tickSize(4).tickPadding(20).tickFormat(d3.format('d')))
    .call(a => a.select('.domain').remove())
    .call(a => a.selectAll('line').attr('stroke', '#555'))
    .call(a => a.selectAll('text').attr('font-size', tickFont).attr('fill', '#000')
      .attr('font-family', '"Liberation Sans", Arial, sans-serif'));

  // x axis only on bottom row
  if (p.row === 1) {
    g.append('g')
      .attr('transform', `translate(0,${r.y1})`)
      .call(d3.axisBottom(x).tickValues(xTicks).tickSize(5).tickPadding(21).tickFormat(d => d.toFixed(1)))
      .call(a => a.select('.domain').remove())
      .call(a => a.selectAll('line').attr('stroke', '#555'))
      .call(a => a.selectAll('text').attr('font-size', tickFont).attr('fill', '#000')
        .attr('font-family', '"Liberation Sans", Arial, sans-serif'));
  }
});

// axis titles
svg.append('text')
  .attr('transform', 'translate(43,462) rotate(-90)')
  .attr('text-anchor', 'middle')
  .attr('font-size', titleFont)
  .attr('font-weight', 'bold')
  .attr('fill', '#000')
  .text('Observed endpoint score');

svg.append('text')
  .attr('x', 598)
  .attr('y', 1012)
  .attr('text-anchor', 'middle')
  .attr('font-size', titleFont)
  .attr('font-weight', 'bold')
  .attr('fill', '#000')
  .text('Predicted underlying disease status');

// "Worse" arrow
svg.append('line')
  .attr('x1', 960).attr('x2', 1137)
  .attr('y1', 1055).attr('y2', 1055)
  .attr('stroke', '#000').attr('stroke-width', 6.5);
svg.append('path')
  .attr('d', 'M1122,1037 L1139,1055 L1122,1073')
  .attr('fill', 'none')
  .attr('stroke', '#000')
  .attr('stroke-width', 6.5)
  .attr('stroke-linecap', 'round')
  .attr('stroke-linejoin', 'round');
svg.append('text')
  .attr('x', 1036)
  .attr('y', 1094)
  .attr('text-anchor', 'middle')
  .attr('font-size', titleFont)
  .attr('font-weight', 'bold')
  .attr('fill', '#000')
  .text('Worse');
</script>
</body>
</html>
